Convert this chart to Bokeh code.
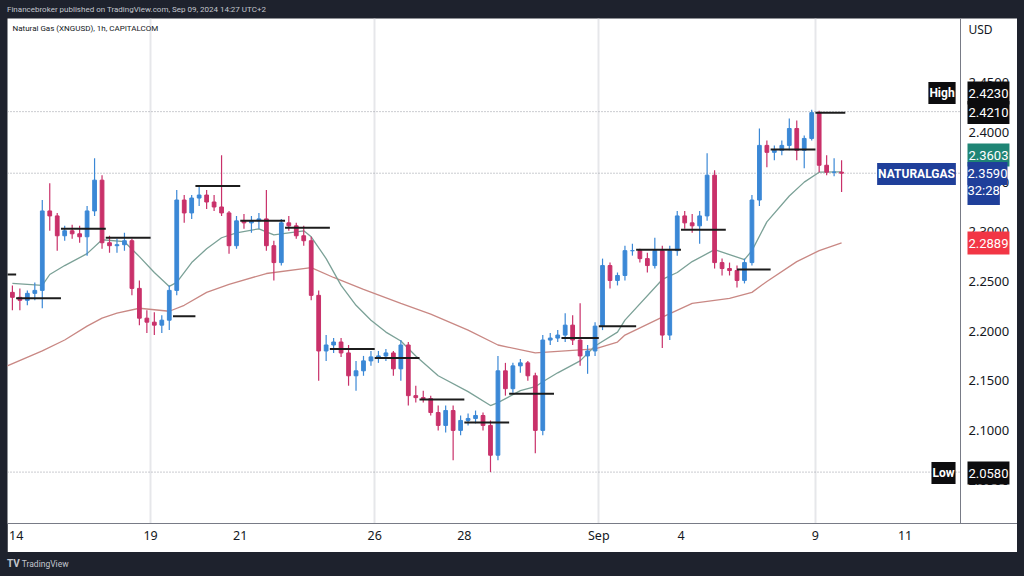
import numpy as np
from bokeh.plotting import figure
from bokeh.models import ColumnDataSource, FixedTicker, Range1d, Span, Label, Div, NumeralTickFormatter
from bokeh.layouts import column
from bokeh.embed import file_html
from bokeh.resources import INLINE

# ---------------- data (4-hour bars) ----------------
sessions = ["Aug 13", "Aug 14", "Aug 15", "Aug 16", "Aug 19", "Aug 20", "Aug 21", "Aug 22", "Aug 23",
            "Aug 26", "Aug 27", "Aug 28", "Aug 29", "Aug 30", "Sep 2", "Sep 3", "Sep 4", "Sep 5",
            "Sep 6", "Sep 9", "Sep 10", "Sep 11"]
bars_per_session = [1, 6, 6, 6, 6, 6, 6, 6, 6, 6, 6, 6, 6, 6, 5, 6, 6, 6, 6, 6, 6, 6]
tick_text = {"Aug 14": "14", "Aug 19": "19", "Aug 21": "21", "Aug 26": "26", "Aug 28": "28",
             "Sep 2": "Sep", "Sep 4": "4", "Sep 9": "9", "Sep 11": "11"}
week_starts = ["Aug 19", "Aug 26", "Sep 2", "Sep 9"]

opens = [2.239,
         2.234, 2.231, 2.238, 2.241, 2.321, 2.316,
         2.296, 2.301, 2.298, 2.295, 2.321, 2.352,
         2.289, 2.286, 2.287, 2.291, 2.243, 2.213,
         2.209, 2.206, 2.211, 2.241, 2.332, 2.319,
         2.334, 2.337, 2.330, 2.325, 2.319, 2.286,
         2.311, 2.309, 2.311, 2.313, 2.286, 2.269,
         2.309, 2.306, 2.296, 2.291, 2.236, 2.180,
         2.186, 2.189, 2.178, 2.155, 2.160, 2.170,
         2.174, 2.175, 2.178, 2.162, 2.186, 2.135,
         2.133, 2.132, 2.118, 2.105, 2.120, 2.100,
         2.110, 2.112, 2.115, 2.105, 2.075, 2.160,
         2.142, 2.165, 2.168, 2.155, 2.100, 2.191,
         2.193, 2.196, 2.206, 2.191, 2.175, 2.180,
         2.205, 2.266, 2.251, 2.256, 2.281,
         2.281, 2.273, 2.266, 2.281, 2.196, 2.281,
         2.316, 2.309, 2.306, 2.316, 2.357, 2.269,
         2.263, 2.261, 2.251, 2.269, 2.332, 2.387,
         2.380, 2.382, 2.387, 2.404, 2.382, 2.394,
         2.420, 2.367, 2.360, 2.360]
highs = [2.246,
         2.243, 2.241, 2.249, 2.332, 2.349, 2.319,
         2.306, 2.307, 2.306, 2.326, 2.374, 2.357,
         2.296, 2.293, 2.299, 2.293, 2.251, 2.221,
         2.219, 2.216, 2.246, 2.342, 2.337, 2.337,
         2.346, 2.342, 2.337, 2.377, 2.321, 2.316,
         2.318, 2.316, 2.319, 2.342, 2.291, 2.313,
         2.316, 2.309, 2.306, 2.295, 2.241, 2.196,
         2.193, 2.193, 2.186, 2.170, 2.175, 2.180,
         2.180, 2.182, 2.180, 2.191, 2.189, 2.145,
         2.140, 2.135, 2.125, 2.125, 2.125, 2.115,
         2.117, 2.120, 2.118, 2.110, 2.175, 2.168,
         2.168, 2.172, 2.170, 2.158, 2.196, 2.198,
         2.201, 2.218, 2.216, 2.228, 2.186, 2.209,
         2.273, 2.269, 2.259, 2.286, 2.288,
         2.283, 2.279, 2.294, 2.286, 2.286, 2.321,
         2.321, 2.318, 2.321, 2.379, 2.362, 2.273,
         2.269, 2.266, 2.273, 2.337, 2.404, 2.392,
         2.387, 2.392, 2.414, 2.412, 2.397, 2.423,
         2.422, 2.377, 2.374, 2.372]
lows = [2.221,
        2.221, 2.226, 2.231, 2.223, 2.301, 2.281,
        2.291, 2.293, 2.289, 2.276, 2.316, 2.283,
        2.279, 2.279, 2.281, 2.236, 2.206, 2.198,
        2.196, 2.198, 2.201, 2.236, 2.309, 2.313,
        2.326, 2.323, 2.321, 2.316, 2.278, 2.283,
        2.303, 2.299, 2.303, 2.281, 2.251, 2.266,
        2.301, 2.293, 2.286, 2.231, 2.150, 2.170,
        2.178, 2.174, 2.145, 2.140, 2.155, 2.165,
        2.168, 2.170, 2.155, 2.150, 2.125, 2.128,
        2.128, 2.115, 2.100, 2.098, 2.070, 2.095,
        2.105, 2.107, 2.100, 2.058, 2.070, 2.135,
        2.138, 2.158, 2.150, 2.077, 2.095, 2.186,
        2.189, 2.189, 2.186, 2.165, 2.157, 2.175,
        2.201, 2.243, 2.246, 2.251, 2.276,
        2.269, 2.259, 2.263, 2.183, 2.191, 2.276,
        2.303, 2.299, 2.288, 2.311, 2.263, 2.256,
        2.256, 2.244, 2.248, 2.266, 2.326, 2.365,
        2.372, 2.377, 2.382, 2.372, 2.364, 2.392,
        2.360, 2.357, 2.356, 2.340]
closes = [2.234,
          2.231, 2.238, 2.241, 2.321, 2.316, 2.296,
          2.301, 2.298, 2.295, 2.321, 2.352, 2.289,
          2.286, 2.287, 2.291, 2.243, 2.213, 2.209,
          2.206, 2.211, 2.241, 2.332, 2.319, 2.334,
          2.337, 2.330, 2.325, 2.319, 2.286, 2.311,
          2.309, 2.311, 2.313, 2.286, 2.269, 2.309,
          2.306, 2.296, 2.291, 2.236, 2.180, 2.186,
          2.189, 2.178, 2.155, 2.160, 2.170, 2.174,
          2.175, 2.178, 2.162, 2.186, 2.135, 2.133,
          2.132, 2.118, 2.105, 2.120, 2.100, 2.110,
          2.112, 2.115, 2.105, 2.075, 2.160, 2.142,
          2.165, 2.168, 2.155, 2.100, 2.191, 2.193,
          2.196, 2.206, 2.191, 2.175, 2.180, 2.205,
          2.266, 2.251, 2.256, 2.281, 2.281,
          2.273, 2.266, 2.281, 2.196, 2.281, 2.316,
          2.309, 2.306, 2.316, 2.357, 2.269, 2.263,
          2.261, 2.251, 2.269, 2.332, 2.387, 2.380,
          2.382, 2.387, 2.404, 2.382, 2.394, 2.420,
          2.367, 2.360, 2.360, 2.359]

# fast moving average (teal) sampled at bar indexes
fast_ma_bar = [0, 4, 5, 7, 10, 12, 15, 17, 19, 21, 22, 24, 26, 28, 30, 33, 35, 37, 39, 40, 42, 44, 46,
               48, 50, 52, 54, 57, 61, 64, 65, 68, 70, 71, 73, 76, 78, 81, 82, 87, 89, 91, 94, 96, 98,
               99, 101, 104, 106, 108, 111]
fast_ma_val = [2.248, 2.246, 2.257, 2.266, 2.278, 2.292, 2.290, 2.275, 2.259, 2.245, 2.249, 2.269,
               2.283, 2.294, 2.299, 2.303, 2.297, 2.299, 2.301, 2.295, 2.273, 2.246, 2.226, 2.211,
               2.199, 2.190, 2.175, 2.155, 2.139, 2.125, 2.128, 2.140, 2.144, 2.149, 2.158, 2.170,
               2.185, 2.199, 2.211, 2.252, 2.259, 2.270, 2.282, 2.277, 2.272, 2.281, 2.310, 2.336,
               2.350, 2.360, 2.3603]
# slow moving average (red)
slow_ma_bar = [-1, 4, 7, 10, 12, 14, 17, 21, 23, 26, 29, 34, 40, 43, 47, 52, 56, 61, 65, 70, 74, 78,
               81, 82, 87, 91, 96, 99, 101, 105, 108, 111]
slow_ma_val = [2.164, 2.180, 2.191, 2.205, 2.213, 2.218, 2.223, 2.220, 2.226, 2.239, 2.247, 2.258,
               2.264, 2.254, 2.242, 2.228, 2.217, 2.201, 2.186, 2.178, 2.180, 2.182, 2.189, 2.196,
               2.214, 2.228, 2.233, 2.239, 2.250, 2.270, 2.281, 2.2889]

# daily reference levels (black segments), bar units
seg_x0 = [-0.7, 0.5, 6.5, 12.5, 21.5, 24.5, 30.5, 36.5, 42.5, 48.5, 54.5, 60.5, 66.5, 73.5, 78.5,
          83.5, 89.5, 97.0, 101.5, 107.5]
seg_x1 = [0.5, 6.5, 12.5, 18.5, 24.5, 30.5, 36.5, 42.5, 48.5, 54.5, 60.5, 66.5, 72.5, 78.5, 83.5,
          89.5, 95.5, 101.5, 107.5, 111.5]
seg_level = [2.257, 2.233, 2.303, 2.294, 2.215, 2.346, 2.311, 2.304, 2.182, 2.173, 2.131, 2.108,
             2.137, 2.193, 2.205, 2.282, 2.302, 2.262, 2.383, 2.420]

price_ticks = [2.05, 2.10, 2.15, 2.20, 2.25, 2.30, 2.35, 2.40, 2.45]
high_price, high_line, last_price, low_price = 2.4230, 2.4210, 2.3590, 2.0580
fast_last, slow_last = 2.3603, 2.2889
countdown = "32:28"

# ---------------- layout helpers ----------------
XMIN, XMAX = -0.656, 134.55
YMIN, YMAX = 2.00624, 2.5148
FRAME_L, FRAME_T, FRAME_W, FRAME_H = 7, 18, 1010, 505
SEP_PX = 960  # price-scale separator


def xd(px):  # page pixel -> data x (for annotation placement)
    return XMIN + (px - FRAME_L) * (XMAX - XMIN) / FRAME_W


def yd(py):
    return YMAX - (py - FRAME_T) * (YMAX - YMIN) / FRAME_H


starts = np.cumsum([0] + bars_per_session[:-1]) - 0.5
start_of = dict(zip(sessions, starts))
tick_pos = [float(start_of[s]) for s in tick_text]
overrides = {float(start_of[s]): t for s, t in tick_text.items()}

UP, DOWN = "#3b88d6", "#c9316a"
x = np.arange(len(closes))
o, c = np.array(opens), np.array(closes)
src = ColumnDataSource(dict(x=x, high=highs, low=lows, top=np.maximum(o, c), bottom=np.minimum(o, c),
                            color=[UP if cc >= oo else DOWN for oo, cc in zip(o, c)]))

p = figure(width=1010, height=534, x_range=Range1d(XMIN, XMAX), y_range=Range1d(YMIN, YMAX),
           output_backend="svg", toolbar_location=None, y_axis_location="right", title=None,
           min_border_left=0, min_border_top=0, min_border_right=0, min_border_bottom=29,
           background_fill_color="white", border_fill_color="white", outline_line_color=None,
           margin=(0, 7, 0, 7))

# grid
p.ygrid.grid_line_color = None
p.xgrid.ticker = FixedTicker(ticks=[float(start_of[s]) for s in week_starts])
p.xgrid.grid_line_color = "#e6e7ea"
p.xgrid.grid_line_width = 2

# axes
AX = "#787b86"
p.yaxis.ticker = FixedTicker(ticks=price_ticks)
p.yaxis.formatter = NumeralTickFormatter(format="0.0000")
p.xaxis.ticker = FixedTicker(ticks=tick_pos)
p.xaxis.major_label_overrides = overrides
for ax in (p.xaxis[0], p.yaxis[0]):
    ax.axis_line_color = AX
    ax.major_tick_line_color = None
    ax.minor_tick_line_color = None
    ax.major_label_text_color = "#131722"
    ax.major_label_text_font = "Noto Sans"
p.yaxis.axis_line_color = None
p.yaxis.major_label_text_font_size = "13px"
p.yaxis.major_label_standoff = -(FRAME_L + FRAME_W - 968) - 6  # labels sit in the price column
p.xaxis.major_label_text_font_size = "12.5px"
p.xaxis.major_label_standoff = -3

# price-scale separator
p.add_layout(Span(location=xd(SEP_PX), dimension="height", line_color=AX, line_width=1))

# dotted price lines (stop at the price scale)
lvls = [high_line, last_price, low_price]
p.segment(x0=[XMIN] * 3, y0=lvls, x1=[xd(SEP_PX)] * 3, y1=lvls, line_color="#9598a1",
          line_dash="1 2", line_width=1)

# moving averages
p.line(slow_ma_bar, slow_ma_val, line_color="#c98884", line_width=1.3)
p.line(fast_ma_bar, fast_ma_val, line_color="#7ba197", line_width=1.3)

# candles
p.segment(x0="x", y0="low", x1="x", y1="high", line_color="color", line_width=1.2, source=src)
p.vbar(x="x", width=0.5, top="top", bottom="bottom", fill_color="color", line_color="color", source=src)

# daily levels
p.segment(x0=seg_x0, y0=seg_level, x1=seg_x1, y1=seg_level, line_color="#1c1c1c", line_width=2)

# texts
p.add_layout(Label(x=xd(12), y=yd(28), text="Natural Gas (XNGUSD), 1h, CAPITALCOM", text_font="Roboto",
                   text_font_size="8px", text_color="#131722", text_baseline="middle"))
p.add_layout(Label(x=xd(968), y=yd(29), text="USD", text_font="Noto Sans", text_font_size="12px",
                   text_color="#131722", text_baseline="middle"))


def badge(txt, px, py, bg, align="left", size="13px", bold=False, pad=(1, 7)):
    p.add_layout(Label(x=xd(px), y=yd(py), text=txt, text_align=align, text_baseline="middle",
                       text_color="white", text_font="Roboto", text_font_size=size,
                       text_font_style="bold" if bold else "normal", level="overlay",
                       background_fill_color=bg, background_fill_alpha=1.0, padding=pad))


BLACK, TEAL, BLUE, RED = "#0c0c0e", "#1f8575", "#1f3f9a", "#f23645"
badge("High", 941.5, 92.5, BLACK, align="center", size="12px", bold=True, pad=(1, 4))
badge(f"{high_price:.4f}", 967, 92.5, BLACK)
badge(f"{high_line:.4f}", 967, 112, BLACK)
badge(f"{fast_last:.4f}", 967, 154.5, TEAL)
badge("NATURALGAS", 916, 173.5, BLUE, align="center", size="12px", bold=True, pad=(1, 4))
badge(countdown, 967, 190, BLUE, pad=(0, 7))
badge(f"{last_price:.4f}", 967, 173, BLUE, pad=(0, 7))
badge(f"{slow_last:.4f}", 967, 242.5, RED)
badge("Low", 943, 472.5, BLACK, align="center", size="12px", bold=True, pad=(1, 4))
badge(f"{low_price:.4f}", 967, 472.5, BLACK)

header = Div(text='<div style="padding-left:7px;line-height:18px;height:18px;color:#c3c6ce;'
                  'font-family:Roboto;font-size:8px;white-space:nowrap">'
                  'Financebroker published on TradingView.com, Sep 09, 2024 14:27 UTC+2</div>',
             width=1024, height=18, margin=0)
footer = Div(text='<div style="padding-left:7px;line-height:24px;height:24px;color:#c3c6ce;'
                  'font-family:Roboto;font-size:8.5px;white-space:nowrap">'
                  '<b style="font-size:10px">TV</b> TradingView</div>',
             width=1024, height=24, margin=0)

page = column(header, p, footer, spacing=0, styles={"background-color": "#1e222d"})

open("out.html", "w").write(file_html(page, INLINE))
